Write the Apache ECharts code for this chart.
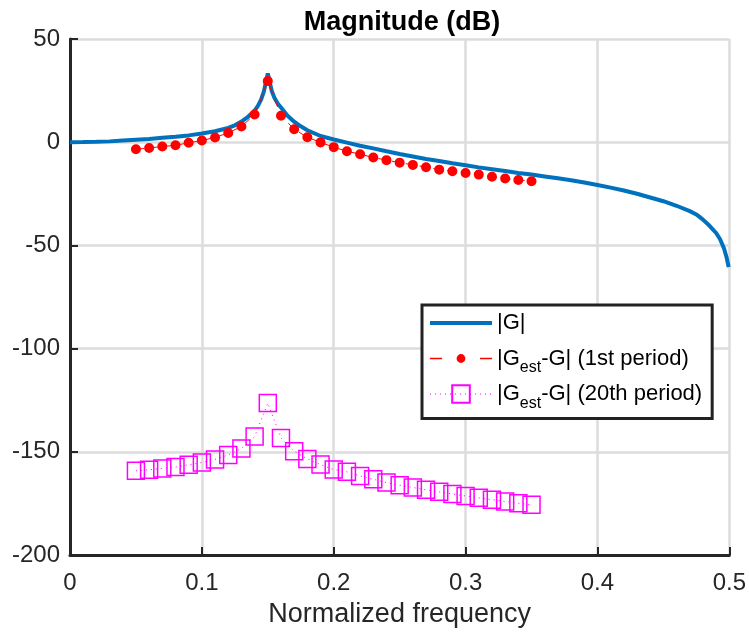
<!DOCTYPE html>
<html>
<head>
<meta charset="utf-8">
<script src="https://cdn.jsdelivr.net/npm/echarts@6/dist/echarts.min.js"></script>
<style>
html,body{margin:0;padding:0;background:#fff;}
#chart{width:749px;height:633px;}
</style>
</head>
<body>
<div id="chart"></div>
<script>
// |G| (dB)
var freqG = [0, 0.01, 0.02, 0.03, 0.04, 0.05, 0.06, 0.07, 0.08, 0.09, 0.10, 0.11, 0.12, 0.125, 0.13, 0.135, 0.14, 0.1425, 0.145, 0.147, 0.1485, 0.15, 0.1515, 0.153, 0.155, 0.1575, 0.16, 0.165, 0.17, 0.175, 0.18, 0.19, 0.20, 0.21, 0.22, 0.23, 0.24, 0.25, 0.26, 0.27, 0.28, 0.29, 0.30, 0.31, 0.32, 0.33, 0.34, 0.35, 0.36, 0.37, 0.38, 0.39, 0.40, 0.41, 0.42, 0.43, 0.44, 0.45, 0.46, 0.47, 0.475, 0.48, 0.485, 0.49, 0.493, 0.496, 0.498, 0.4995];
var magG = [0, 0.05, 0.2, 0.4, 0.8, 1.2, 1.6, 2.1, 2.6, 3.3, 4.2, 5.3, 6.9, 8.2, 10.0, 12.3, 15.3, 17.6, 20.8, 24.5, 29.0, 33.3, 29.0, 24.8, 21.5, 18.8, 16.8, 12.8, 9.9, 7.7, 5.8, 3.0, 1.3, -0.2, -1.7, -3.0, -4.4, -5.7, -6.9, -8.1, -9.1, -10.2, -11.2, -12.2, -13.1, -14.0, -14.9, -15.7, -16.6, -17.5, -18.4, -19.5, -20.7, -22.0, -23.4, -25.0, -26.8, -28.6, -30.8, -33.4, -35.0, -37.5, -40.5, -44.0, -47.0, -51.5, -56.0, -60.5];

// estimation error frequencies
var freqEst = [0.05, 0.06, 0.07, 0.08, 0.09, 0.10, 0.11, 0.12, 0.13, 0.14, 0.15, 0.16, 0.17, 0.18, 0.19, 0.20, 0.21, 0.22, 0.23, 0.24, 0.25, 0.26, 0.27, 0.28, 0.29, 0.30, 0.31, 0.32, 0.33, 0.34, 0.35];
// |Gest - G| after 1st period (dB)
var err1 = [-3.4, -2.8, -2.1, -1.5, -0.3, 0.8, 2.3, 4.5, 7.6, 13.4, 29.6, 12.8, 6.3, 2.4, -0.1, -2.4, -4.4, -5.8, -7.4, -8.7, -9.9, -11.0, -12.1, -13.3, -14.1, -14.9, -15.7, -16.7, -17.6, -18.3, -18.9];
// |Gest - G| after 20th period (dB)
var err20 = [-159.2, -158.7, -158.1, -157.4, -156.3, -155.2, -153.7, -151.5, -148.4, -142.6, -126.4, -143.3, -149.7, -153.5, -156.2, -158.6, -159.7, -161.7, -163.3, -164.9, -166.2, -167.3, -168.4, -169.4, -170.4, -171.4, -172.3, -173.2, -174.1, -174.9, -175.7];

var xTicks = [0, 0.1, 0.2, 0.3, 0.4, 0.5];
var yTicks = [-200, -150, -100, -50, 0, 50];

var names = ['|G|', '|G_est-G| (1st period)', '|G_est-G| (20th period)'];

function pairs(xs, ys) { return xs.map(function (x, i) { return [x, ys[i]]; }); }

// padded circle symbol: the dot fills half of its box (so legend dot stays small)
var DOT = 'path://M0 0L0.01 0M20 20L19.99 20M10 5A5 5 0 1 1 10 15A5 5 0 1 1 10 5Z';

var chart = echarts.init(document.getElementById('chart'), null, {renderer: 'canvas'});
var FONT = 'Liberation Sans';
var option = {
  backgroundColor: '#ffffff',
  animation: false,
  title: {
    text: 'Magnitude (dB)',
    left: 397, top: 4, textAlign: 'center',
    textStyle: {fontFamily: FONT, fontWeight: 'bold', fontSize: 27, color: '#000'}
  },
  grid: {left: 70, right: 17, top: 39, bottom: 78, containLabel: false},
  xAxis: {
    type: 'value', min: 0, max: 0.5, interval: 0.1,
    name: 'Normalized frequency', nameLocation: 'middle', nameGap: 46,
    nameTextStyle: {fontFamily: FONT, fontSize: 27, color: '#262626'},
    axisLine: {show: true, onZero: false, lineStyle: {color: '#262626', width: 3}},
    axisTick: {show: true, inside: true, length: 8, lineStyle: {color: '#262626', width: 2}},
    axisLabel: {fontFamily: FONT, fontSize: 24, color: '#262626', margin: 16,
      formatter: function (v) { return xTicks.indexOf(+v.toFixed(2)) >= 0 ? String(+v.toFixed(2)) : ''; }},
    splitLine: {show: true, lineStyle: {color: '#dcdcdc', width: 2.5}}
  },
  yAxis: {
    type: 'value', min: -200, max: 50, interval: 50,
    axisLine: {show: true, onZero: false, lineStyle: {color: '#262626', width: 3}},
    axisTick: {show: true, inside: true, length: 8, lineStyle: {color: '#262626', width: 2}},
    axisLabel: {fontFamily: FONT, fontSize: 24, color: '#262626', margin: 10,
      formatter: function (v) { return yTicks.indexOf(v) >= 0 ? String(v) : ''; }},
    splitLine: {show: true, lineStyle: {color: '#dcdcdc', width: 2.5}}
  },
  legend: {
    orient: 'vertical', left: 422, top: 305,
    backgroundColor: '#ffffff', borderColor: '#222', borderWidth: 3,
    padding: [7, 10, 7, 6], itemGap: 7, itemWidth: 62, itemHeight: 22,
    data: [
      {name: names[0], itemStyle: {opacity: 0}, lineStyle: {width: 4, color: '#0072BD'}},
      {name: names[1], lineStyle: {width: 1.5, type: [12, 38], color: '#ff0000'}},
      {name: names[2], lineStyle: {width: 1, type: [1, 4], color: '#ff00ff'}}
    ],
    textStyle: {fontFamily: FONT, fontSize: 22, color: '#000',
      rich: {
        s: {fontFamily: FONT, fontSize: 16, color: '#000', padding: [19, 0, 0, 0]}
      }},
    formatter: function (n) {
      if (n === names[0]) return '|G|{s| }';
      if (n === names[1]) return '|G{s|est}-G| (1st period)';
      return '|G{s|est}-G| (20th period)';
    }
  },
  series: [
    {
      name: names[0], type: 'line', data: pairs(freqG, magG),
      symbol: 'none', smooth: false, z: 2,
      lineStyle: {color: '#0072BD', width: 4}, itemStyle: {color: '#0072BD'}
    },
    {
      name: names[1], type: 'line', data: pairs(freqEst, err1),
      symbol: DOT, symbolSize: 20, z: 3,
      lineStyle: {color: '#ff0000', width: 1, type: [8, 6]},
      itemStyle: {color: '#ff0000'}
    },
    {
      name: names[2], type: 'line', data: pairs(freqEst, err20),
      symbol: 'rect', symbolSize: 17, z: 3,
      lineStyle: {color: '#ff00ff', width: 1, type: [1, 4]},
      itemStyle: {color: 'rgba(0,0,0,0)', borderColor: '#ff00ff', borderWidth: 1.5}
    }
  ]
};
chart.setOption(option);
</script>
</body>
</html>
